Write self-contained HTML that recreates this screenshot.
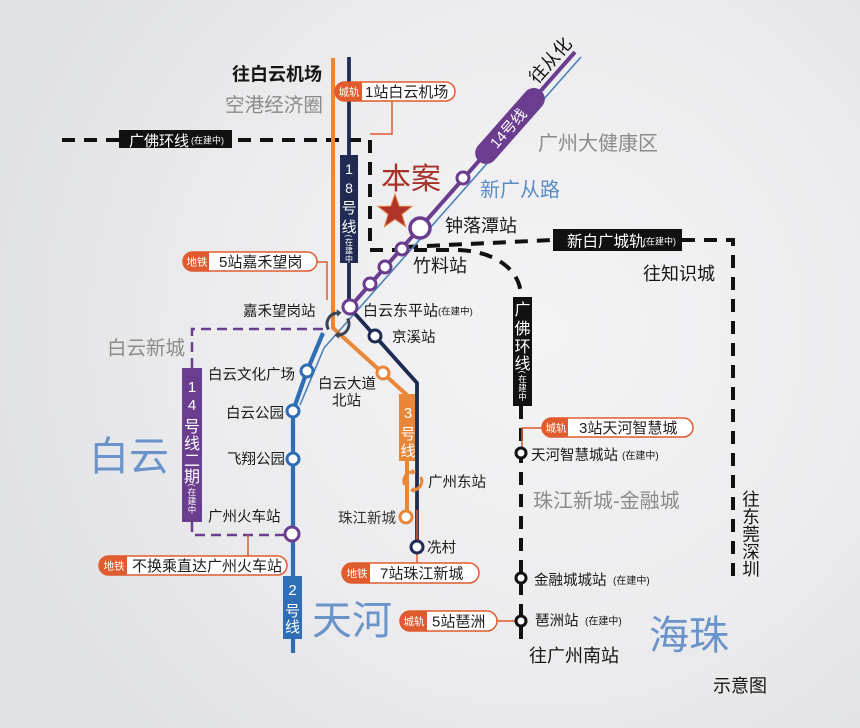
<!DOCTYPE html>
<html><head><meta charset="utf-8">
<style>
html,body{margin:0;padding:0;}
body{width:860px;height:728px;overflow:hidden;background:#e8e8ea;}
svg{display:block;}
text{font-family:"Liberation Sans","Noto Sans CJK SC",sans-serif;}
</style></head><body>
<svg width="860" height="728" viewBox="0 0 860 728" xmlns="http://www.w3.org/2000/svg">
<defs>
<radialGradient id="bg" cx="540" cy="330" r="580" gradientUnits="userSpaceOnUse">
<stop offset="0" stop-color="#f4f4f5"/>
<stop offset="0.55" stop-color="#ececee"/>
<stop offset="1" stop-color="#e0e1e3"/>
</radialGradient>
</defs>
<rect width="860" height="728" fill="url(#bg)"/>

<!-- black dashed lines -->
<g fill="none" stroke="#111" stroke-width="4" stroke-dasharray="13 9">
<path d="M62,140 H370 V250 H455 C492,250 521,268 521,297"/>
<path d="M521,406 V645"/>
<path d="M405,247 L553,240"/>
<path d="M682,240 H733 V585"/>
</g>

<!-- purple dashed (14 line phase 2) -->
<g fill="none" stroke="#6a3d8f" stroke-width="2.5" stroke-dasharray="10 6">
<path d="M323,329 H192 V368"/>
<path d="M192,522 V535 H286"/>
</g>

<!-- thin road line -->
<path d="M581,57 L324,348 L300,405" fill="none" stroke="#4c80b8" stroke-width="1.6"/>

<!-- line 3 orange -->
<path d="M333,58 V328 L407,395" fill="none" stroke="#e8873a" stroke-width="4"/>
<path d="M407,460 V517" fill="none" stroke="#e8873a" stroke-width="4"/>
<rect x="399" y="394" width="18" height="67" fill="#e8873a"/>

<!-- line 18 navy -->
<path d="M349,57 V307 L417,383 V547" fill="none" stroke="#1f2b52" stroke-width="3.8"/>
<rect x="340" y="155" width="18" height="108" fill="#1f2b52"/>

<!-- line 14 purple -->
<path d="M575,52 L350,307" fill="none" stroke="#6a3d8f" stroke-width="4"/>
<g transform="translate(510,126) rotate(-48.6)">
<rect x="-47" y="-11" width="94" height="22" rx="11" fill="#6a3d8f"/>
<text x="-3" y="5.5" font-size="15" fill="#fff" text-anchor="middle">14号线</text>
</g>

<!-- line 2 blue -->
<path d="M323,333 L307,371 L293,411 V653" fill="none" stroke="#2f6db5" stroke-width="4.2"/>
<rect x="283" y="576" width="19" height="63" fill="#2f6db5"/>

<!-- 14号线二期 box -->
<rect x="182" y="368" width="20" height="154" fill="#6a3d8f"/>

<!-- black vertical box 广佛环线 -->
<rect x="513" y="297" width="19" height="109" fill="#111"/>
<!-- black horizontal boxes -->
<rect x="119" y="130" width="113" height="18" fill="#111"/>
<rect x="553" y="229" width="129" height="22" fill="#111"/>

<!-- transfer symbols -->
<g fill="none" stroke="#3a4454" stroke-width="3">
<path d="M328.5,329.5 A11,11 0 0 1 337,313"/>
<path d="M347.5,318.5 A11,11 0 0 1 339,335"/>
</g>
<polygon points="341.5,312.7 336.7,309.3 337.3,316.7" fill="#3a4454"/>
<polygon points="334.5,335.3 339.3,338.7 338.7,331.3" fill="#3a4454"/>

<g fill="none" stroke="#e8873a" stroke-width="3">
<path d="M404.8,485 A9,9 0 0 1 412,472"/>
<path d="M420.8,477 A9,9 0 0 1 414,490"/>
</g>
<polygon points="416,471.8 411.8,468.8 412.2,475.2" fill="#e8873a"/>
<polygon points="410,490.2 414.2,493.2 413.8,486.8" fill="#e8873a"/>

<!-- callout connectors -->
<g fill="none" stroke="#e05b2e" stroke-width="1.5">
<path d="M392,101 V134 H370"/>
<path d="M317,262 H327 V300"/>
<path d="M248,556 V535"/>
<path d="M417,510 V563"/>
<path d="M522,450 V428 H542"/>
<path d="M497,621 H516"/>
</g>

<!-- stations -->
<g fill="#fff" stroke-width="3">
<circle cx="463" cy="178" r="6" stroke="#6a3d8f"/>
<circle cx="420" cy="228" r="10" stroke="#6a3d8f" stroke-width="3.5"/>
<circle cx="402" cy="249" r="6" stroke="#6a3d8f"/>
<circle cx="385" cy="267" r="6" stroke="#6a3d8f"/>
<circle cx="370" cy="284" r="6" stroke="#6a3d8f"/>
<circle cx="350" cy="307" r="7" stroke="#6a3d8f"/>
<circle cx="375" cy="336" r="6" stroke="#1f2b52"/>
<circle cx="383" cy="373" r="6" stroke="#e8873a"/>
<circle cx="307" cy="371" r="6" stroke="#2f6db5"/>
<circle cx="293" cy="411" r="6" stroke="#2f6db5"/>
<circle cx="293" cy="459" r="6" stroke="#2f6db5"/>
<circle cx="292" cy="534" r="7" stroke="#6a3d8f"/>
<circle cx="406" cy="517" r="6" stroke="#e8873a"/>
<circle cx="417" cy="547" r="6" stroke="#1f2b52"/>
<circle cx="521" cy="453" r="5" stroke="#111"/>
<circle cx="521" cy="578" r="5" stroke="#111"/>
<circle cx="521" cy="621" r="5" stroke="#111"/>
</g>

<!-- star -->
<polygon points="395,194 399.3,206.1 412.1,206.4 401.9,214.3 405.6,226.6 395,219.3 384.4,226.6 388.1,214.3 377.9,206.4 390.7,206.1" fill="#b0342a" stroke="#e48a4a" stroke-width="1"/>

<!-- pills -->
<g stroke="#e05b2e" stroke-width="1.5" fill="#fff">
<rect x="335" y="82" width="120" height="19" rx="9.5"/>
<rect x="183" y="252" width="134" height="19" rx="9.5"/>
<rect x="99" y="556" width="188" height="19" rx="9.5"/>
<rect x="342" y="563" width="137" height="20" rx="10"/>
<rect x="542" y="418" width="151" height="19" rx="9.5"/>
<rect x="400" y="611" width="97" height="20" rx="10"/>
</g>
<g fill="#e05b2e">
<path d="M362,82 H344.5 A9.5,9.5 0 0 0 344.5,101 H362 Z"/>
<path d="M209,252 H192.5 A9.5,9.5 0 0 0 192.5,271 H209 Z"/>
<path d="M127,556 H108.5 A9.5,9.5 0 0 0 108.5,575 H127 Z"/>
<path d="M370,563 H352 A10,10 0 0 0 352,583 H370 Z"/>
<path d="M568,418 H551.5 A9.5,9.5 0 0 0 551.5,437 H568 Z"/>
<path d="M427,611 H410 A10,10 0 0 0 410,631 H427 Z"/>
</g>
<g fill="#fff" font-size="10.5" text-anchor="middle">
<text x="349" y="95.5">城轨</text>
<text x="197" y="265.5">地铁</text>
<text x="114" y="569.5">地铁</text>
<text x="357" y="577">地铁</text>
<text x="556" y="431.5">城轨</text>
<text x="414" y="625">城轨</text>
</g>
<g fill="#1e1e1e" font-size="15">
<text x="365" y="97">1站白云机场</text>
<text x="219" y="267">5站嘉禾望岗</text>
<text x="132" y="571">不换乘直达广州火车站</text>
<text x="380" y="578.6">7站珠江新城</text>
<text x="579" y="433">3站天河智慧城</text>
<text x="432" y="626.6">5站琶洲</text>
</g>

<!-- box texts -->
<g fill="#fff" text-anchor="middle">
<text x="349" y="174" font-size="14">1</text>
<text x="349" y="193" font-size="14">8</text>
<text x="349" y="213" font-size="15">号</text>
<text x="349" y="232" font-size="15">线</text>
<text transform="translate(346,236) rotate(90)" font-size="8">(</text>
<text x="349" y="245" font-size="8">在</text>
<text x="349" y="253.5" font-size="8">建</text>
<text x="349" y="262" font-size="8">中</text>

<text x="192" y="392" font-size="15">1</text>
<text x="192" y="410" font-size="15">4</text>
<text x="192" y="432" font-size="16">号</text>
<text x="192" y="449" font-size="16">线</text>
<text x="192" y="466" font-size="16">二</text>
<text x="192" y="482" font-size="16">期</text>
<text transform="translate(189,485) rotate(90)" font-size="8.5">(</text>
<text x="192" y="495" font-size="8.5">在</text>
<text x="192" y="504" font-size="8.5">建</text>
<text x="192" y="513" font-size="8.5">中</text>

<text x="408" y="418" font-size="15">3</text>
<text x="408" y="439" font-size="15">号</text>
<text x="408" y="456" font-size="15">线</text>

<text x="292.5" y="595" font-size="15">2</text>
<text x="292.5" y="616" font-size="15">号</text>
<text x="292.5" y="632" font-size="15">线</text>

<text x="522.5" y="315" font-size="16">广</text>
<text x="522.5" y="334" font-size="16">佛</text>
<text x="522.5" y="352" font-size="16">环</text>
<text x="522.5" y="369" font-size="16">线</text>
<text transform="translate(519.5,372) rotate(90)" font-size="8.5">(</text>
<text x="522.5" y="382" font-size="8.5">在</text>
<text x="522.5" y="391" font-size="8.5">建</text>
<text x="522.5" y="400" font-size="8.5">中</text>
</g>
<g fill="#fff">
<text x="129" y="146" font-size="15">广佛环线</text>
<text x="191" y="143.5" font-size="9">(在建中)</text>
<text x="567" y="246.7" font-size="15.5">新白广城轨</text>
<text x="643" y="244.5" font-size="9">(在建中)</text>
</g>

<!-- region labels -->
<g fill="#8b8b8c">
<text x="225" y="111.4" font-size="19.6">空港经济圈</text>
<text x="538" y="150" font-size="20">广州大健康区</text>
<text x="107" y="354.5" font-size="19.5">白云新城</text>
<text x="533" y="507.6" font-size="20">珠江新城-金融城</text>
</g>
<g fill="#6a93c9">
<text x="89" y="470" font-size="40">白云</text>
<text x="312" y="634" font-size="40">天河</text>
<text x="649" y="649" font-size="40">海珠</text>
<text x="480" y="196.6" font-size="20" fill="#5b8bc5">新广从路</text>
</g>
<text x="381" y="189" font-size="30" fill="#a8322a">本案</text>

<!-- direction labels -->
<g fill="#151515">
<text x="232" y="80.3" font-size="18" font-weight="bold">往白云机场</text>
<text transform="translate(550,60) rotate(-48.6)" x="0" y="6.8" font-size="18" text-anchor="middle">往从化</text>
<text x="643" y="279.8" font-size="18">往知识城</text>
<text x="529" y="661.8" font-size="18">往广州南站</text>
<text x="713" y="691.8" font-size="18">示意图</text>
<g font-size="17.5" text-anchor="middle">
<text x="751" y="505.5">往</text>
<text x="751" y="523">东</text>
<text x="751" y="540.5">莞</text>
<text x="751" y="558">深</text>
<text x="751" y="575.5">圳</text>
</g>
</g>

<!-- station labels -->
<g fill="#1a1a1a">
<text x="445" y="231.8" font-size="18">钟落潭站</text>
<text x="413" y="271.8" font-size="18">竹料站</text>
<text x="243" y="316" font-size="14.5">嘉禾望岗站</text>
<text x="363" y="315.7" font-size="15">白云东平站</text>
<text x="438" y="314.5" font-size="9.5">(在建中)</text>
<text x="392" y="342" font-size="14.5">京溪站</text>
<text x="208" y="379.5" font-size="14.5">白云文化广场</text>
<text x="318" y="388.5" font-size="14.5">白云大道</text>
<text x="332" y="405.5" font-size="14.5">北站</text>
<text x="226" y="418" font-size="14.5">白云公园</text>
<text x="227" y="464" font-size="14.5">飞翔公园</text>
<text x="208" y="521.5" font-size="14.5">广州火车站</text>
<text x="428" y="487" font-size="14.5">广州东站</text>
<text x="338" y="523" font-size="14.5" fill="#333">珠江新城</text>
<text x="427" y="552.5" font-size="14.5">冼村</text>
<text x="531" y="460" font-size="14.5">天河智慧城站</text>
<text x="622" y="459" font-size="10">(在建中)</text>
<text x="534" y="585" font-size="14.5">金融城城站</text>
<text x="613" y="584" font-size="10">(在建中)</text>
<text x="535" y="625.5" font-size="14.5">琶洲站</text>
<text x="585" y="624.5" font-size="10">(在建中)</text>
</g>
</svg>
</body></html>
